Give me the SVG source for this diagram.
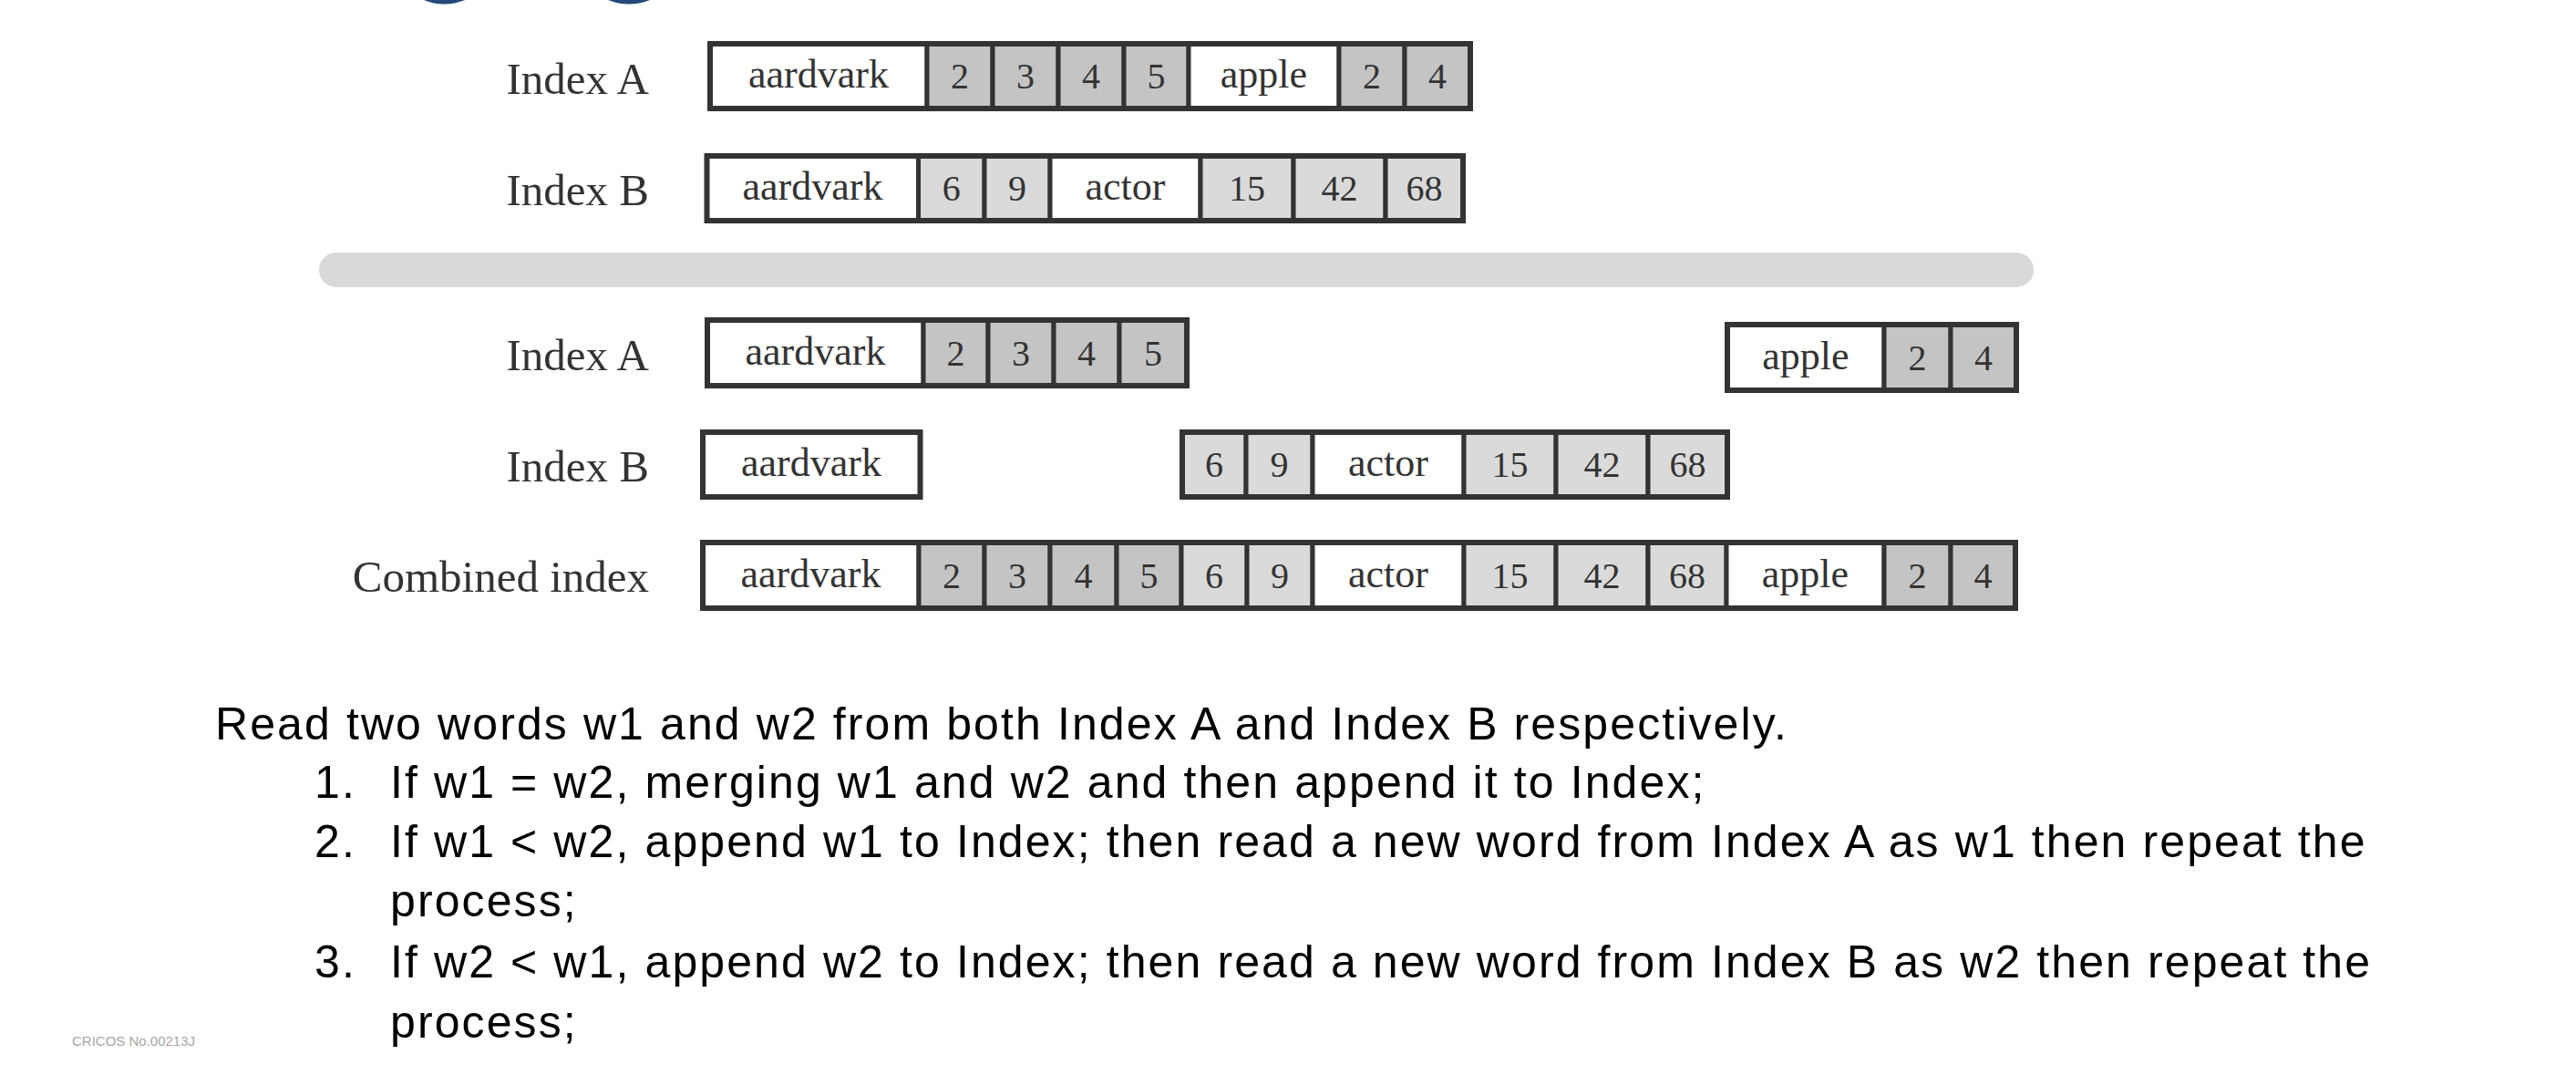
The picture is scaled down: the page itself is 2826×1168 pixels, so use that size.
<svg xmlns="http://www.w3.org/2000/svg" width="2826" height="1168" viewBox="0 0 2826 1168">
<style>
.w{fill:#ffffff;stroke:#333333;stroke-width:5}
.d{fill:#c4c4c4;stroke:#333333;stroke-width:5}
.l{fill:#dadada;stroke:#333333;stroke-width:5}
.o{fill:none;stroke:#333333;stroke-width:6}
.t{font-family:"Liberation Serif","Times New Roman",serif;font-size:44px;fill:#333333;text-anchor:middle}
.n{font-size:40px}
.lab{font-family:"Liberation Serif","Times New Roman",serif;font-size:49px;fill:#333333;text-anchor:end}
.body{font-family:"Liberation Sans",Arial,sans-serif;font-size:50px;letter-spacing:2.1px;fill:#000000}
.cr{font-family:"Liberation Sans",Arial,sans-serif;font-size:15px;fill:#a6a6a6}
</style>
<rect width="2826" height="1168" fill="#ffffff"/>
<g id="title-remnant" fill="#24497a">
<path d="M465,0 Q487,9 510,0 Z"/>
<path d="M667,0 Q690,9 713,0 Z"/>
</g>
<g id="row1-indexA">
<text class="lab" x="712" y="103">Index A</text>
<rect class="w" x="779" y="48" width="238" height="71"/>
<rect class="d" x="1017" y="48" width="72" height="71"/>
<rect class="d" x="1089" y="48" width="72" height="71"/>
<rect class="d" x="1161" y="48" width="72" height="71"/>
<rect class="d" x="1233" y="48" width="71" height="71"/>
<rect class="w" x="1304" y="48" width="165" height="71"/>
<rect class="d" x="1469" y="48" width="72" height="71"/>
<rect class="d" x="1541" y="48" width="72" height="71"/>
<rect class="o" x="779" y="48" width="834" height="71"/>
<text class="t" x="898" y="96">aardvark</text>
<text class="t n" x="1053" y="97">2</text>
<text class="t n" x="1125" y="97">3</text>
<text class="t n" x="1197" y="97">4</text>
<text class="t n" x="1268.5" y="97">5</text>
<text class="t" x="1386.5" y="96">apple</text>
<text class="t n" x="1505" y="97">2</text>
<text class="t n" x="1577" y="97">4</text>
</g>
<g id="row2-indexB">
<text class="lab" x="712" y="225">Index B</text>
<rect class="w" x="775.5" y="171" width="232" height="71"/>
<rect class="l" x="1007.5" y="171" width="72.5" height="71"/>
<rect class="l" x="1080" y="171" width="72" height="71"/>
<rect class="w" x="1152" y="171" width="165" height="71"/>
<rect class="l" x="1317" y="171" width="102" height="71"/>
<rect class="l" x="1419" y="171" width="101" height="71"/>
<rect class="l" x="1520" y="171" width="85" height="71"/>
<rect class="o" x="775.5" y="171" width="829.5" height="71"/>
<text class="t" x="891.5" y="219">aardvark</text>
<text class="t n" x="1043.75" y="220">6</text>
<text class="t n" x="1116" y="220">9</text>
<text class="t" x="1234.5" y="219">actor</text>
<text class="t n" x="1368" y="220">15</text>
<text class="t n" x="1469.5" y="220">42</text>
<text class="t n" x="1562.5" y="220">68</text>
</g>
<rect id="separator" x="350" y="277" width="1881" height="38" rx="19" fill="#d9d9d9"/>
<g id="row3-indexA">
<text class="lab" x="712" y="406">Index A</text>
<rect class="w" x="776" y="351" width="237" height="72"/>
<rect class="d" x="1013" y="351" width="71" height="72"/>
<rect class="d" x="1084" y="351" width="72" height="72"/>
<rect class="d" x="1156" y="351" width="72" height="72"/>
<rect class="d" x="1228" y="351" width="74" height="72"/>
<rect class="o" x="776" y="351" width="526" height="72"/>
<text class="t" x="894.5" y="399.5">aardvark</text>
<text class="t n" x="1048.5" y="400.5">2</text>
<text class="t n" x="1120" y="400.5">3</text>
<text class="t n" x="1192" y="400.5">4</text>
<text class="t n" x="1265" y="400.5">5</text>
</g>
<g id="row3-indexA-apple">
<rect class="w" x="1895" y="356" width="172" height="72"/>
<rect class="d" x="2067" y="356" width="73" height="72"/>
<rect class="d" x="2140" y="356" width="72" height="72"/>
<rect class="o" x="1895" y="356" width="317" height="72"/>
<text class="t" x="1981" y="404.5">apple</text>
<text class="t n" x="2103.5" y="405.5">2</text>
<text class="t n" x="2176" y="405.5">4</text>
</g>
<g id="row4-indexB-aardvark">
<text class="lab" x="712" y="528">Index B</text>
<rect class="w" x="771" y="474" width="238.5" height="71" style="stroke-width:6"/>
<text class="t" x="890" y="522">aardvark</text>
</g>
<g id="row4-indexB-rest">
<rect class="l" x="1297" y="474" width="70" height="71"/>
<rect class="l" x="1367" y="474" width="73" height="71"/>
<rect class="w" x="1440" y="474" width="166" height="71"/>
<rect class="l" x="1606" y="474" width="101" height="71"/>
<rect class="l" x="1707" y="474" width="101" height="71"/>
<rect class="l" x="1808" y="474" width="87" height="71"/>
<rect class="o" x="1297" y="474" width="598" height="71"/>
<text class="t n" x="1332" y="523">6</text>
<text class="t n" x="1403.5" y="523">9</text>
<text class="t" x="1523" y="522">actor</text>
<text class="t n" x="1656.5" y="523">15</text>
<text class="t n" x="1757.5" y="523">42</text>
<text class="t n" x="1851.5" y="523">68</text>
</g>
<g id="row5-combined">
<text class="lab" x="712" y="649">Combined index</text>
<rect class="w" x="771" y="595" width="237" height="72"/>
<rect class="d" x="1008" y="595" width="72" height="72"/>
<rect class="d" x="1080" y="595" width="72" height="72"/>
<rect class="d" x="1152" y="595" width="73" height="72"/>
<rect class="d" x="1225" y="595" width="71" height="72"/>
<rect class="l" x="1296" y="595" width="72" height="72"/>
<rect class="l" x="1368" y="595" width="72" height="72"/>
<rect class="w" x="1440" y="595" width="166" height="72"/>
<rect class="l" x="1606" y="595" width="101" height="72"/>
<rect class="l" x="1707" y="595" width="101" height="72"/>
<rect class="l" x="1808" y="595" width="86" height="72"/>
<rect class="w" x="1894" y="595" width="173" height="72"/>
<rect class="d" x="2067" y="595" width="73" height="72"/>
<rect class="d" x="2140" y="595" width="71" height="72"/>
<rect class="o" x="771" y="595" width="1440" height="72"/>
<text class="t" x="889.5" y="643.5">aardvark</text>
<text class="t n" x="1044" y="644.5">2</text>
<text class="t n" x="1116" y="644.5">3</text>
<text class="t n" x="1188.5" y="644.5">4</text>
<text class="t n" x="1260.5" y="644.5">5</text>
<text class="t n" x="1332" y="644.5">6</text>
<text class="t n" x="1404" y="644.5">9</text>
<text class="t" x="1523" y="643.5">actor</text>
<text class="t n" x="1656.5" y="644.5">15</text>
<text class="t n" x="1757.5" y="644.5">42</text>
<text class="t n" x="1851" y="644.5">68</text>
<text class="t" x="1980.5" y="643.5">apple</text>
<text class="t n" x="2103.5" y="644.5">2</text>
<text class="t n" x="2175.5" y="644.5">4</text>
</g>
<g id="connectors"/>
<g id="description">
<text class="body" x="236" y="811">Read two words w1 and w2 from both Index A and Index B respectively.</text>
<text class="body" x="345" y="875">1.</text>
<text class="body" x="428" y="875">If w1 = w2, merging w1 and w2 and then append it to Index;</text>
<text class="body" x="345" y="940">2.</text>
<text class="body" x="428" y="940">If w1 &lt; w2, append w1 to Index; then read a new word from Index A as w1 then repeat the</text>
<text class="body" x="428" y="1005">process;</text>
<text class="body" x="345" y="1072">3.</text>
<text class="body" x="428" y="1072">If w2 &lt; w1, append w2 to Index; then read a new word from Index B as w2 then repeat the</text>
<text class="body" x="428" y="1138">process;</text>
</g>
<text id="cricos" class="cr" x="79" y="1147">CRICOS No.00213J</text>
</svg>
